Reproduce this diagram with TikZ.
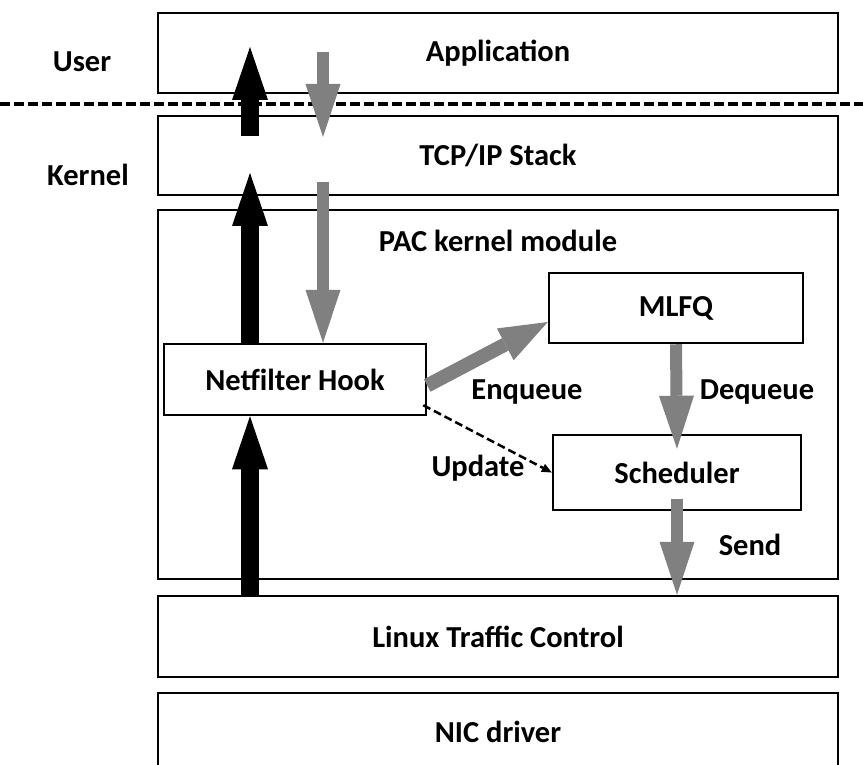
\documentclass[tikz,border=0pt]{standalone}
\usepackage{fontspec}
\setmainfont{Carlito}
\usetikzlibrary{arrows.meta}
\definecolor{flowgray}{RGB}{128,128,128}
\begin{document}
\begin{tikzpicture}[x=1pt,y=-1pt,
  txt/.style={font=\bfseries\fontsize{30.5}{36}\selectfont, inner sep=0pt},
  boxnode/.style={draw, line width=2.5pt, fill=white, inner sep=0pt, txt},
  layer/.style={boxnode, minimum width=680pt, minimum height=#1},
  upflow/.style={draw=black, line width=18pt,
    -{Triangle[length=53pt,width=36pt,line width=0pt]}},
  downflow/.style={draw=flowgray, line width=12pt,
    -{Triangle[length=53pt,width=35pt,line width=0pt]}},
  sideflow/.style={draw=flowgray, line width=14pt,
    -{Triangle[length=48pt,width=36pt,line width=0pt]}},
  ctrlflow/.style={draw=black, line width=2.5pt, dash pattern=on 8pt off 4pt,
    -{Triangle[length=10pt,width=9pt,line width=0pt]}},
]
\useasboundingbox (0,0) rectangle (863,765);
\clip (0,0) rectangle (863,765);

% protocol layers
\node[layer=80pt] (app) at (498,53) {Application};
\node[layer=79pt] (tcp) at (498,155.5) {TCP/IP Stack};
\node[layer=369pt] (pac) at (498,394.5) {};
\node[txt] (pactitle) at (498,241) {PAC kernel module};
\node[layer=81pt] (ltc) at (498,636.5) {Linux Traffic Control};
\node[layer=77pt] (nic) at (498,731.5) {NIC driver};

% components inside the kernel module
\node[boxnode, minimum width=254pt, minimum height=70pt] (mlfq) at (676,308) {MLFQ};
\node[boxnode, minimum width=262pt, minimum height=71pt] (nf) at (295,379.5) {Netfilter Hook};
\node[boxnode, minimum width=248pt, minimum height=75pt] (sched) at (677,472.5) {Scheduler};

% user / kernel boundary
\coordinate (sepL) at (0,104);
\coordinate (sepR) at (863,104);
\draw[line width=4.5pt, dash pattern=on 10pt off 4pt] (sepL) -- (sepR);
\node[txt] (user) at (82,62) {User};
\node[txt] (kernel) at (88,175) {Kernel};

% column positions of the vertical flows
\coordinate (upx) at (250,0);
\coordinate (dnx) at (323,0);
\coordinate (upAs) at (250,136);
\coordinate (upAe) at (250,47);
\coordinate (upBe) at (250,173);
\coordinate (dnAs) at (323,52);
\coordinate (dnAe) at (323,137);
\coordinate (dnBs) at (323,182);

% receive path (black)
\draw[upflow] (ltc.north -| upx) -- (nf.south -| upx);
\draw[upflow] (nf.north -| upx) -- (upBe);
\draw[upflow] (upAs) -- (upAe);

% send path (gray)
\draw[downflow] (dnAs) -- (dnAe);
\draw[downflow] (dnBs) -- (nf.north -| dnx);
\draw[sideflow] ([yshift=-6pt]nf.east) -- ([yshift=-14pt]mlfq.west);
\draw[downflow] (mlfq.south) -- ([yshift=-15pt]sched.north);
\draw[downflow] ([yshift=12pt]sched.south) -- (ltc.north -| sched.south);
\draw[ctrlflow] ([xshift=-4pt,yshift=11pt]nf.south east) -- (sched.west);

% flow labels
\node[txt] (enq) at (527,392) {Enqueue};
\node[txt] (deq) at (757,392) {Dequeue};
\node[txt] (upd) at (478,468) {Update};
\node[txt] (send) at (750,545) {Send};
\end{tikzpicture}
\end{document}
